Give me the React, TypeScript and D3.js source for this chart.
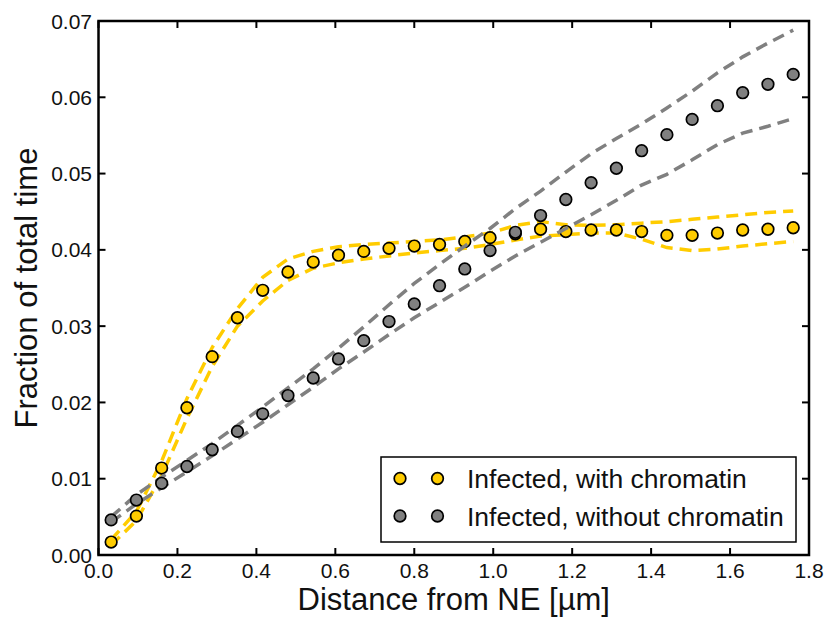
import React from "react";
import * as d3 from "d3";

// distance from NE (bin centres, µm)
const distance = [0.032, 0.096, 0.16, 0.224, 0.288, 0.352, 0.416, 0.48, 0.544, 0.608, 0.672, 0.736, 0.8, 0.864, 0.928, 0.992, 1.056, 1.12, 1.184, 1.248, 1.312, 1.376, 1.44, 1.504, 1.568, 1.632, 1.696, 1.76];

// infected, with chromatin
const withChromatin = [0.0017, 0.0051, 0.0114, 0.0193, 0.026, 0.0311, 0.0347, 0.0371, 0.0384, 0.0393, 0.0398, 0.0402, 0.0405, 0.0407, 0.0411, 0.0416, 0.0421, 0.0427, 0.0424, 0.0426, 0.0426, 0.0424, 0.0419, 0.0419, 0.0422, 0.0426, 0.0427, 0.0429];
const withUpper = [0.002, 0.0057, 0.0123, 0.0205, 0.0272, 0.0323, 0.0364, 0.0388, 0.0398, 0.0404, 0.0407, 0.0409, 0.0411, 0.0413, 0.0417, 0.0422, 0.0432, 0.0437, 0.0433, 0.0432, 0.0433, 0.0435, 0.0437, 0.044, 0.0443, 0.0446, 0.0449, 0.0451];
const withLower = [0.0013, 0.0045, 0.0104, 0.0179, 0.0247, 0.03, 0.0333, 0.036, 0.0376, 0.0383, 0.0388, 0.0392, 0.0396, 0.0399, 0.0402, 0.0407, 0.0413, 0.0418, 0.042, 0.0422, 0.0422, 0.0414, 0.0403, 0.0399, 0.0401, 0.0405, 0.0408, 0.0411];

// infected, without chromatin
const withoutChromatin = [0.0046, 0.0072, 0.0094, 0.0116, 0.0138, 0.0162, 0.0185, 0.0209, 0.0232, 0.0257, 0.0281, 0.0306, 0.0329, 0.0353, 0.0375, 0.0399, 0.0423, 0.0445, 0.0466, 0.0488, 0.0507, 0.053, 0.0551, 0.0571, 0.0589, 0.0606, 0.0617, 0.063];
const withoutUpper = [0.005, 0.0079, 0.0102, 0.0124, 0.0146, 0.017, 0.0194, 0.0219, 0.0244, 0.0271, 0.0299, 0.0328, 0.0356, 0.0381, 0.0405, 0.0428, 0.0454, 0.0477, 0.0502, 0.0526, 0.0546, 0.0565, 0.0586, 0.0608, 0.0632, 0.0653, 0.0671, 0.0688];
const withoutLower = [0.0043, 0.0067, 0.0088, 0.0109, 0.013, 0.0152, 0.0174, 0.0197, 0.022, 0.0244, 0.0266, 0.0289, 0.0311, 0.0331, 0.0351, 0.0372, 0.0392, 0.041, 0.0428, 0.0446, 0.0465, 0.0485, 0.0499, 0.0518, 0.0538, 0.0553, 0.0562, 0.0572];

const xTicks = [0, 0.2, 0.4, 0.6, 0.8, 1.0, 1.2, 1.4, 1.6, 1.8];
const yTicks = [0, 0.01, 0.02, 0.03, 0.04, 0.05, 0.06, 0.07];

const series = [
  { name: "Infected, with chromatin", color: "#ffcc00", values: withChromatin, upper: withUpper, lower: withLower },
  { name: "Infected, without chromatin", color: "#808080", values: withoutChromatin, upper: withoutUpper, lower: withoutLower },
];

const W = 825;
const H = 620;
const left = 98.5, right = 809, top = 21, bottom = 555;
const font = "'Liberation Sans', Arial, sans-serif";

export default function App() {
  const x = d3.scaleLinear().domain([0, 1.8]).range([left, right]);
  const y = d3.scaleLinear().domain([0, 0.07]).range([bottom, top]);

  const line = (vals: number[]) =>
    d3.line<number>().x((_, i) => x(distance[i])).y((d) => y(d))(vals) || "";

  const tickLen = 7;
  const r = 5.8;

  return (
    <div style={{ position: "fixed", left: 0, top: 0, background: "#fff" }}>
      <svg width={W} height={H} style={{ display: "block" }} fontFamily={font}>
        <rect width={W} height={H} fill="#fff" />

        {/* data: dashed bands, then markers */}
        {series.map((s) => (
          <g key={s.name}>
            {[s.upper, s.lower].map((b, k) => (
              <path key={k} d={line(b)} fill="none" stroke={s.color} strokeWidth={3.5} strokeDasharray="12,7" />
            ))}
            {s.values.map((v, i) => (
              <circle key={i} cx={x(distance[i])} cy={y(v)} r={r} fill={s.color} stroke="#000" strokeWidth={1.7} />
            ))}
          </g>
        ))}

        {/* ticks on all sides, pointing in */}
        {xTicks.map((t) => (
          <g key={"x" + t}>
            <line x1={x(t)} x2={x(t)} y1={bottom} y2={bottom - tickLen} stroke="#000" strokeWidth={2} />
            <line x1={x(t)} x2={x(t)} y1={top} y2={top + tickLen} stroke="#000" strokeWidth={2} />
            <text x={x(t)} y={578} textAnchor="middle" fontSize={21} fill="#111">
              {t.toFixed(1)}
            </text>
          </g>
        ))}
        {yTicks.map((t) => (
          <g key={"y" + t}>
            <line x1={left} x2={left + tickLen} y1={y(t)} y2={y(t)} stroke="#000" strokeWidth={2} />
            <line x1={right} x2={right - tickLen} y1={y(t)} y2={y(t)} stroke="#000" strokeWidth={2} />
            <text x={92} y={y(t)} dy="0.36em" textAnchor="end" fontSize={21} fill="#111">
              {t.toFixed(2)}
            </text>
          </g>
        ))}

        <rect x={left} y={top} width={right - left} height={bottom - top} fill="none" stroke="#000" strokeWidth={2.5} />

        {/* axis labels */}
        <text x={(left + right) / 2} y={610} textAnchor="middle" fontSize={31} fill="#111">
          Distance from NE [µm]
        </text>
        <text transform={`translate(37,${(top + bottom) / 2}) rotate(-90)`} textAnchor="middle" fontSize={31} fill="#111">
          Fraction of total time
        </text>

        {/* legend */}
        <g>
          <rect x={381} y={457} width={415} height={85} fill="#fff" stroke="#000" strokeWidth={1.5} />
          {series.map((s, i) => {
            const ry = 478.5 + i * 37.5;
            return (
              <g key={s.name}>
                <circle cx={400} cy={ry} r={r} fill={s.color} stroke="#000" strokeWidth={1.7} />
                <circle cx={437.5} cy={ry} r={r} fill={s.color} stroke="#000" strokeWidth={1.7} />
                <text x={467} y={ry} dy="0.36em" fontSize={26.5} fill="#111">
                  {s.name}
                </text>
              </g>
            );
          })}
        </g>
      </svg>
    </div>
  );
}
